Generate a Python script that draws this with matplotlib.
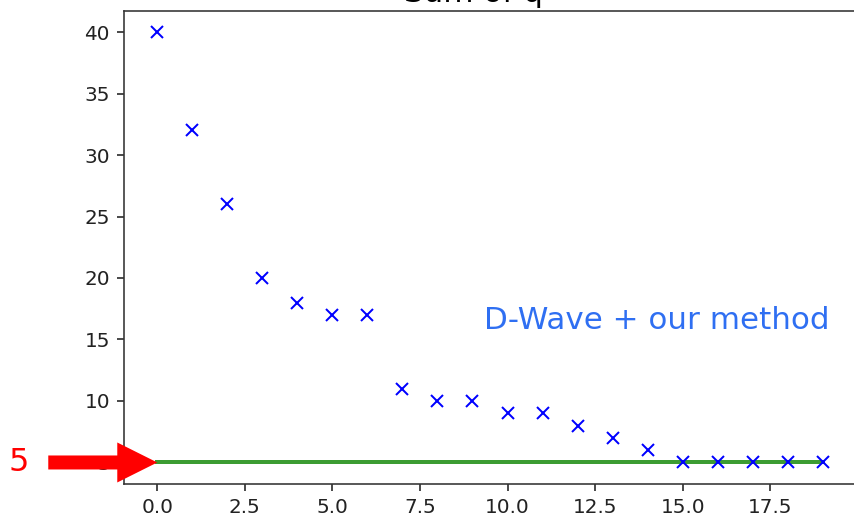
import matplotlib
matplotlib.use("Agg")
import matplotlib.pyplot as plt

iterations = list(range(20))
sum_q = [40, 32, 26, 20, 18, 17, 17, 11, 10, 10, 9, 9, 8, 7, 6, 5, 5, 5, 5, 5]
target_value = 5
label_text = "D-Wave + our method"
title_text = "Sum of q"

DPI = 144
W, H = 854, 518
fig = plt.figure(figsize=(W / DPI, H / DPI), dpi=DPI)
ax = fig.add_axes([124 / W, (H - 484) / H, (856 - 124) / W, (484 - 10.5) / H])

ax.plot([iterations[0], iterations[-1]], [target_value, target_value],
        color="#3c9c32", lw=2.0, zorder=2)
ax.plot(iterations, sum_q, "bx", markersize=6, markeredgewidth=1.0, zorder=3)

ax.set_title(title_text, fontsize=15.5, pad=4, x=0.478)
ax.tick_params(labelsize=10, colors="#222222")
for s in ax.spines.values():
    s.set_color("#333333")

ax.text(0.9645, 0.346, label_text, transform=ax.transAxes, ha="right", va="center",
        fontsize=15.5, color="#2f6ff2")

ax.annotate("", xy=(0, target_value), xytext=(-109, 0), textcoords="offset pixels",
            annotation_clip=False,
            arrowprops=dict(arrowstyle="simple,head_width=20,head_length=20,tail_width=7",
                            mutation_scale=1, color="#ff0000", shrinkA=0, shrinkB=0, lw=0))
ax.annotate(str(target_value), xy=(0, target_value), xytext=(-139, 0), textcoords="offset pixels",
            annotation_clip=False, ha="center", va="center", fontsize=16, color="#ff0000")

fig.savefig("out.png", dpi=DPI)
